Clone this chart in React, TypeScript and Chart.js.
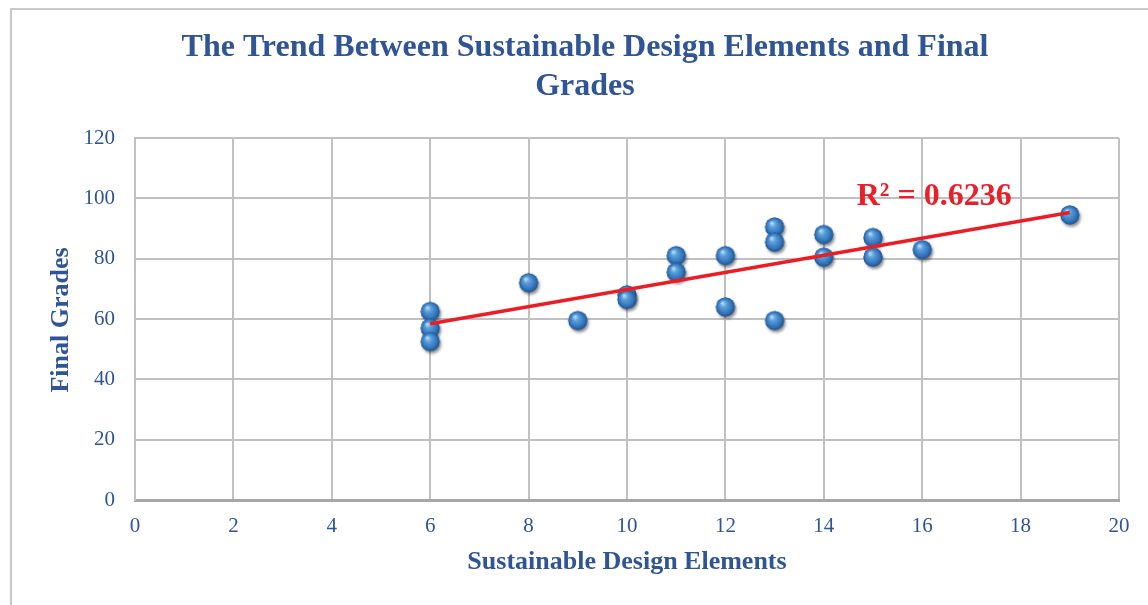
import React, { useEffect, useRef } from "react";
import { Chart, registerables } from "chart.js";

Chart.register(...registerables);

const titleLines = ["The Trend Between Sustainable Design Elements and Final", "Grades"];
const xAxisTitle = "Sustainable Design Elements";
const yAxisTitle = "Final Grades";
const r2Label = "R² = 0.6236";

const designElements = [6, 6, 6, 8, 9, 10, 10, 11, 11, 12, 12, 13, 13, 13, 14, 14, 15, 15, 16, 19];
const finalGrades = [62.5, 57, 52.5, 72, 59.5, 68, 66.5, 81, 75.5, 81, 64, 90.5, 85.5, 59.5, 88, 80.5, 87, 80.5, 83, 94.5];

const xTicksMin = 0;
const xTicksMax = 20;
const xStep = 2;
const yTicksMin = 0;
const yTicksMax = 120;
const yStep = 20;

const BLUE = "#2F5597";
const SERIF = "'Liberation Serif', 'Times New Roman', serif";

function makeSphere(): HTMLCanvasElement {
  const c = document.createElement("canvas");
  c.width = 28;
  c.height = 28;
  const ctx = c.getContext("2d")!;
  const cx = 14, cy = 14, r = 9.5;
  // shadow
  ctx.save();
  ctx.shadowColor = "rgba(0,0,0,0.45)";
  ctx.shadowBlur = 3;
  ctx.shadowOffsetX = 1.5;
  ctx.shadowOffsetY = 2.5;
  ctx.fillStyle = "#2a65a5";
  ctx.beginPath();
  ctx.arc(cx, cy, r, 0, Math.PI * 2);
  ctx.fill();
  ctx.restore();
  const g = ctx.createRadialGradient(cx - 3, cy - 4, 0.5, cx, cy, r);
  g.addColorStop(0, "#b8dcf7");
  g.addColorStop(0.3, "#5a9fdc");
  g.addColorStop(0.75, "#3476bb");
  g.addColorStop(1, "#1f5390");
  ctx.fillStyle = g;
  ctx.beginPath();
  ctx.arc(cx, cy, r, 0, Math.PI * 2);
  ctx.fill();
  return c;
}

function regression(xs: number[], ys: number[]) {
  const n = xs.length;
  const mx = xs.reduce((a, b) => a + b, 0) / n;
  const my = ys.reduce((a, b) => a + b, 0) / n;
  let sxy = 0, sxx = 0;
  for (let i = 0; i < n; i++) {
    sxy += (xs[i] - mx) * (ys[i] - my);
    sxx += (xs[i] - mx) * (xs[i] - mx);
  }
  const slope = sxy / sxx;
  return { slope, intercept: my - slope * mx };
}

const textPlugin = {
  id: "textPlugin",
  afterDraw(chart: any) {
    const ctx = chart.ctx as CanvasRenderingContext2D;
    const { x, y } = chart.scales;
    const area = chart.chartArea;
    ctx.save();
    // title
    ctx.fillStyle = BLUE;
    ctx.textAlign = "center";
    ctx.textBaseline = "middle";
    ctx.font = `bold 32px ${SERIF}`;
    ctx.fillText(titleLines[0], 585, 48);
    ctx.fillText(titleLines[1], 585, 87);
    // x axis title
    ctx.font = `bold 26px ${SERIF}`;
    ctx.fillText(xAxisTitle, (area.left + area.right) / 2, 562);
    // y axis title
    ctx.save();
    ctx.translate(61, 320);
    ctx.rotate(-Math.PI / 2);
    ctx.fillText(yAxisTitle, 0, 0);
    ctx.restore();
    // R2 label
    ctx.fillStyle = "#E8202A";
    ctx.textAlign = "left";
    ctx.font = `bold 32px ${SERIF}`;
    ctx.fillText(r2Label, x.getPixelForValue(14.67), y.getPixelForValue(100.5));
    ctx.restore();
  },
};

export default function App() {
  const ref = useRef<HTMLCanvasElement | null>(null);
  useEffect(() => {
    if (!ref.current) return;
    const sphere = makeSphere();
    const points = designElements.map((v, i) => ({ x: v, y: finalGrades[i] }));
    const { slope, intercept } = regression(designElements, finalGrades);
    const xMin = Math.min(...designElements);
    const xMax = Math.max(...designElements);
    const trend = [
      { x: xMin, y: intercept + slope * xMin },
      { x: xMax, y: intercept + slope * xMax },
    ];
    const tickFont = { family: SERIF, size: 21 };
    const chart = new Chart(ref.current, {
      type: "scatter",
      data: {
        datasets: [
          {
            label: yAxisTitle,
            data: points,
            pointStyle: sphere as any,
            pointRadius: 10,
            order: 1,
          },
          {
            type: "line",
            label: "Linear trend",
            data: trend,
            borderColor: "#ED1C24",
            borderWidth: 3.5,
            pointRadius: 0,
            fill: false,
            order: 0,
          } as any,
        ],
      },
      options: {
        animation: false,
        responsive: false,
        maintainAspectRatio: false,
        layout: { padding: { left: 0, right: 29, top: 138, bottom: 0 } },
        plugins: {
          legend: { display: false },
          tooltip: { enabled: false },
          title: { display: false },
        },
        scales: {
          x: {
            type: "linear",
            min: xTicksMin,
            max: xTicksMax,
            ticks: { stepSize: xStep, color: BLUE, font: tickFont, padding: 14 },
            grid: { color: "#C0C0C0", lineWidth: 2, drawTicks: false },
            border: { color: "#A6A6A6", width: 3 },
            afterFit: (s: any) => { s.height = 105; },
          },
          y: {
            type: "linear",
            min: yTicksMin,
            max: yTicksMax,
            ticks: { stepSize: yStep, color: BLUE, font: tickFont, padding: 20 },
            grid: { color: "#C0C0C0", lineWidth: 2, drawTicks: false },
            border: { color: "#C0C0C0", width: 2 },
            afterFit: (s: any) => { s.width = 135; },
          },
        },
      },
      plugins: [textPlugin],
    });
    return () => chart.destroy();
  }, []);
  return (
    <div style={{ position: "fixed", left: 0, top: 0, width: 1148, height: 605, background: "#fff", overflow: "hidden" }}>
      <div
        style={{
          position: "absolute",
          left: 10,
          top: 8,
          width: 1200,
          height: 700,
          borderTop: "2px solid #C8C8C8",
          borderLeft: "2px solid #C8C8C8",
        }}
      />
      <canvas ref={ref} width={1148} height={605} style={{ position: "absolute", left: 0, top: 0, width: 1148, height: 605 }} />
    </div>
  );
}
